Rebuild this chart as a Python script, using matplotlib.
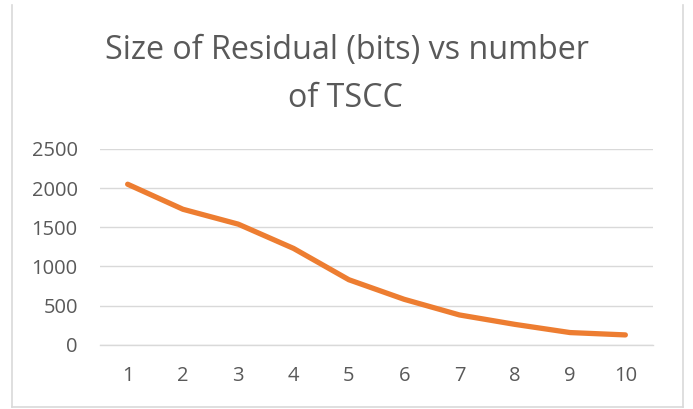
import matplotlib
matplotlib.use("Agg")
import matplotlib.pyplot as plt
from matplotlib.lines import Line2D

categories = [1, 2, 3, 4, 5, 6, 7, 8, 9, 10]
residual_bits = [2050, 1730, 1540, 1230, 830, 580, 380, 260, 155, 125]
y_ticks = [0, 500, 1000, 1500, 2000, 2500]
title_lines = ["Size of Residual (bits) vs number", "of TSCC"]

W, H = 693, 409
fig = plt.figure(figsize=(W / 100, H / 100), dpi=100)
plt.rcParams['font.family'] = ['Open Sans', 'DejaVu Sans']

ax = fig.add_axes([100 / W, (H - 344.7) / H, 553 / W, (344.7 - 149) / H])
ax.plot(categories, residual_bits, color='#ED7D31', lw=3.8,
        solid_capstyle='round', solid_joinstyle='round', zorder=3)
ax.set_xlim(0.5, 10.5)
ax.set_ylim(0, 2500)
ax.set_yticks(y_ticks)
ax.set_xticks(categories)
ax.set_xticklabels([str(c) for c in categories])
ax.grid(axis='y', color='#D9D9D9', lw=1.0)
ax.set_axisbelow(True)
for s in ['top', 'right', 'left']:
    ax.spines[s].set_visible(False)
ax.spines['bottom'].set_color('#D9D9D9')
ax.spines['bottom'].set_linewidth(1.0)
ax.tick_params(axis='both', length=0, labelsize=14.5, labelcolor='#595959')
ax.tick_params(axis='y', pad=16)
ax.tick_params(axis='x', pad=15)

# title lines
fig.text(347 / W, 1 - 59 / H, title_lines[0], ha='center', va='baseline',
         fontsize=23.2, color='#595959')
fig.text(345 / W, 1 - 107 / H, title_lines[1], ha='center', va='baseline',
         fontsize=23.2, color='#595959')

# chart border
bc = '#D9D9D9'
fig.add_artist(Line2D([12 / W, 12 / W], [1 - 5 / H, 1 - 406.7 / H], color=bc, lw=1.2, transform=fig.transFigure))
fig.add_artist(Line2D([682.7 / W, 682.7 / W], [1 - 5 / H, 1 - 406.7 / H], color=bc, lw=1.2, transform=fig.transFigure))
fig.add_artist(Line2D([12 / W, 682.7 / W], [1 - 406.7 / H, 1 - 406.7 / H], color=bc, lw=1.2, transform=fig.transFigure))

fig.savefig("out.png", dpi=100)
